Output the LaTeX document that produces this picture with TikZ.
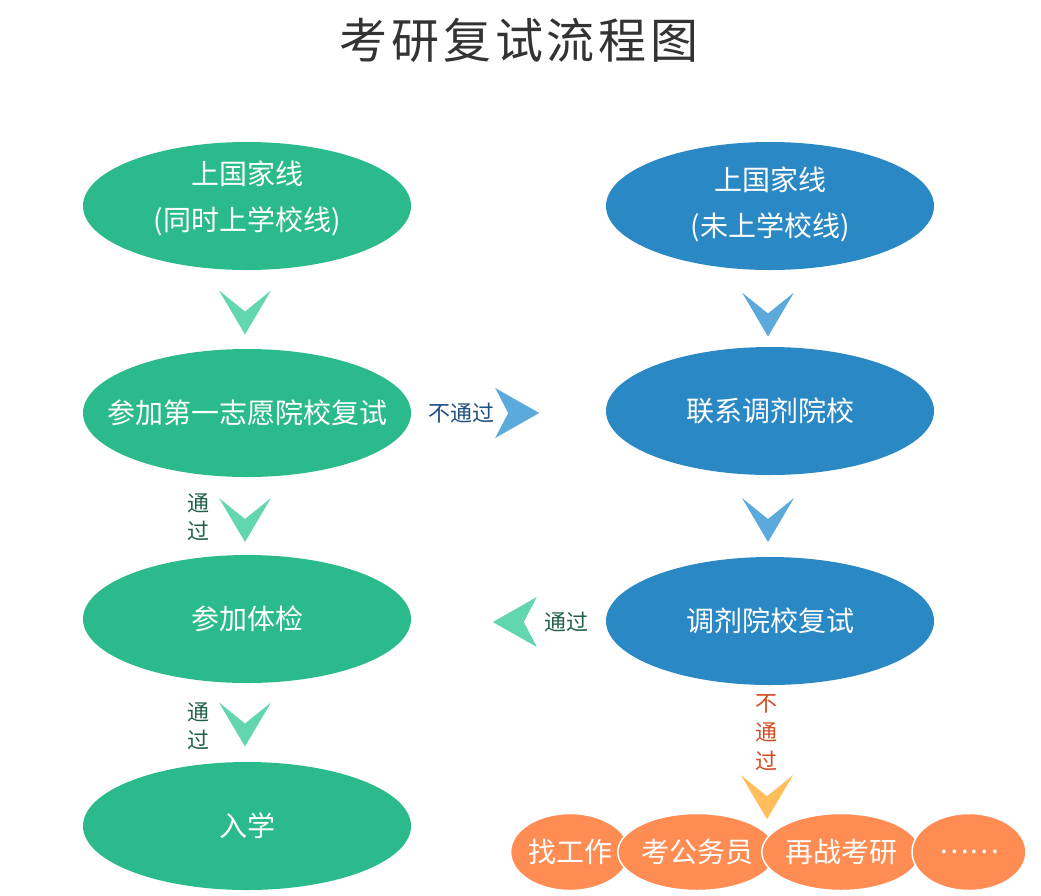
\documentclass[tikz,border=0pt]{standalone}
\usepackage{fontspec}
\setmainfont{Noto Sans CJK SC}
\usetikzlibrary{calc,positioning,shapes.geometric}
\definecolor{gfill}{HTML}{2BBA8B}
\definecolor{garrow}{HTML}{62D6AE}
\definecolor{glab}{HTML}{22604A}
\definecolor{bfill}{HTML}{2A88C4}
\definecolor{barrow}{HTML}{5CA9DC}
\definecolor{blab}{HTML}{1F4F80}
\definecolor{ofill}{HTML}{FF8C52}
\definecolor{oarrow}{HTML}{FFBE5C}
\definecolor{olab}{HTML}{D24C22}
\definecolor{titlegray}{HTML}{333333}
\newcommand\twoline[3]{\raisebox{#1}[0pt][0pt]{\begin{tabular}{@{}c@{}}#2\\#3\end{tabular}}}
\begin{document}
\begin{tikzpicture}[x=1pt,y=-1pt,
  bub/.style={ellipse,inner sep=0pt,minimum width=328pt,minimum height=128pt,
    text=white,font=\fontsize{28}{46}\selectfont,align=center},
  gbub/.style={bub,fill=gfill},
  bbub/.style={bub,fill=bfill},
  obub/.style={bub,fill=ofill,draw=white,line width=1.5pt,minimum height=77pt},
  lab/.style={font=\fontsize{22}{28}\selectfont,inner sep=0pt,align=center},
  pics/chevdown/.style={code={\fill[#1] (-26,-22) -- (0,-1) -- (26,-22) -- (0,22) -- cycle;}},
  pics/chevright/.style={code={\fill[#1] (-22,-25) -- (22,0) -- (-22,25) -- (-9,0) -- cycle;}},
  pics/chevleft/.style={code={\fill[#1] (22,-25) -- (-22,0) -- (22,25) -- (9,0) -- cycle;}}]
\useasboundingbox (0,0) rectangle (1041,895);
\node[font=\fontsize{48}{50}\selectfont\addfontfeature{LetterSpace=8},text=titlegray] (title) at (519,40) {考研复试流程图};
% left column
\node[gbub] (g1) at (247,206) {\twoline{1pt}{上国家线}{(同时上学校线)}};
\node[gbub] (g2) at (247,413) {\makebox[0pt]{参加第一志愿院校复试}};
\node[gbub] (g3) at (247,619) {参加体检};
\node[gbub] (g4) at (247,826) {入学};
% right column
\node[bbub] (b1) at (770,206) {\twoline{-5pt}{上国家线}{(未上学校线)}};
\node[bbub] (b2) at (770,411) {联系调剂院校};
\node[bbub] (b3) at (770,621) {调剂院校复试};
% other choices
\node[obub,minimum width=112pt] (o1) at (570,852) {找工作};
\node[obub,minimum width=144pt] (o2) at (697,852) {考公务员};
\node[obub,minimum width=144pt] (o3) at (841,852) {再战考研};
\node[obub,minimum width=114pt] (o4) at (969,852) {……};
% chevrons
\pic at ($(g1.south)!0.5!(g2.north)+(-2,3)$) {chevdown=garrow};
\pic at ($(g2.south)!0.5!(g3.north)+(-2,4)$) {chevdown=garrow};
\pic at ($(g3.south)!0.5!(g4.north)+(-2,2)$) {chevdown=garrow};
\pic at ($(b1.south)!0.5!(b2.north)+(-2,6)$) {chevdown=barrow};
\pic at ($(b2.south)!0.5!(b3.north)+(-2,4)$) {chevdown=barrow};
\coordinate (cr) at ($(g2.east)+(106,0)$);
\coordinate (cl) at ($(b3.west)+(-91,1)$);
\coordinate (cy) at ($(b3.south)+(-3,112)$);
\pic at (cr) {chevright=barrow};
\pic at (cl) {chevleft=garrow};
\pic at (cy) {chevdown=oarrow};
% labels
\node[lab,text=blab,left=23pt of cr] (l1) {不通过};
\node[lab,text=glab,right=29pt of cl] (l2) {通过};
\node[lab,text=glab] (l3) at (198,517) {通\\过};
\node[lab,text=glab] (l4) at (198,726) {通\\过};
\node[lab,text=olab,font=\fontsize{22}{29}\selectfont] (l5) at (766,733) {不\\通\\过};
\end{tikzpicture}
\end{document}
